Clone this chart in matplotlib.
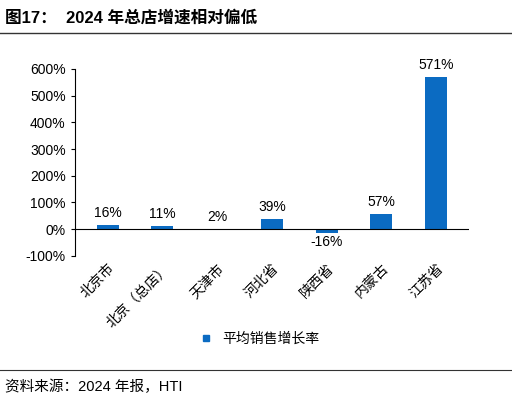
import matplotlib

matplotlib.use("Agg")
import matplotlib.pyplot as plt
from matplotlib.lines import Line2D

plt.rcParams["font.family"] = ["Liberation Sans", "Noto Sans CJK SC", "DejaVu Sans"]

categories = ["北京市", "北京（总店）", "天津市", "河北省", "陕西省", "内蒙古", "江苏省"]
growth = [16, 11, 2, 39, -16, 57, 571]
labels = ["16%", "11%", "2%", "39%", "-16%", "57%", "571%"]
yticks = [-100, 0, 100, 200, 300, 400, 500, 600]

fig = plt.figure(figsize=(5.12, 4.03), dpi=100)
ax = fig.add_axes([0.146, 0.365, 0.77, 0.464])
x = range(len(categories))
ax.bar(x, growth, width=0.4, color="#0b6bc2", label="平均销售增长率")
ax.set_ylim(-100, 600)
ax.set_yticks(yticks)
ax.set_yticklabels([f"{v}%" for v in yticks], fontsize=10)
ax.set_xticks(list(x))
ax.set_xticklabels(categories, rotation=45, ha="right", rotation_mode="anchor", fontsize=10)
ax.set_xlim(-0.6, len(categories) - 0.4)
for s in ["top", "right", "bottom"]:
    ax.spines[s].set_visible(False)
ax.axhline(0, color="black", lw=0.8)
ax.tick_params(axis="x", length=0, pad=4)
ax.tick_params(axis="y", length=3)
for i, (v, t) in enumerate(zip(growth, labels)):
    yy = max(v, 0) + 18 if v >= 0 else v - 5
    ax.text(i, yy, t, ha="center", va="bottom" if v >= 0 else "top", fontsize=10)

handle = Line2D([], [], marker="s", color="#0b6bc2", lw=0, markersize=5)
fig.legend([handle], ["平均销售增长率"], loc="center", bbox_to_anchor=(0.5, 0.16),
           frameon=False, fontsize=10, handletextpad=0.2)

fig.text(0.01, 0.955, "图17：  2024 年总店增速相对偏低", fontsize=12, fontweight="bold", va="center")
fig.add_artist(Line2D([0.0, 1.0], [0.918, 0.918], color="#333333", lw=1))
fig.add_artist(Line2D([0.0, 1.0], [0.083, 0.083], color="#333333", lw=0.8))
fig.text(0.01, 0.04, "资料来源：2024 年报，HTI", fontsize=10.5, va="center")

fig.savefig("out.png", dpi=100)
